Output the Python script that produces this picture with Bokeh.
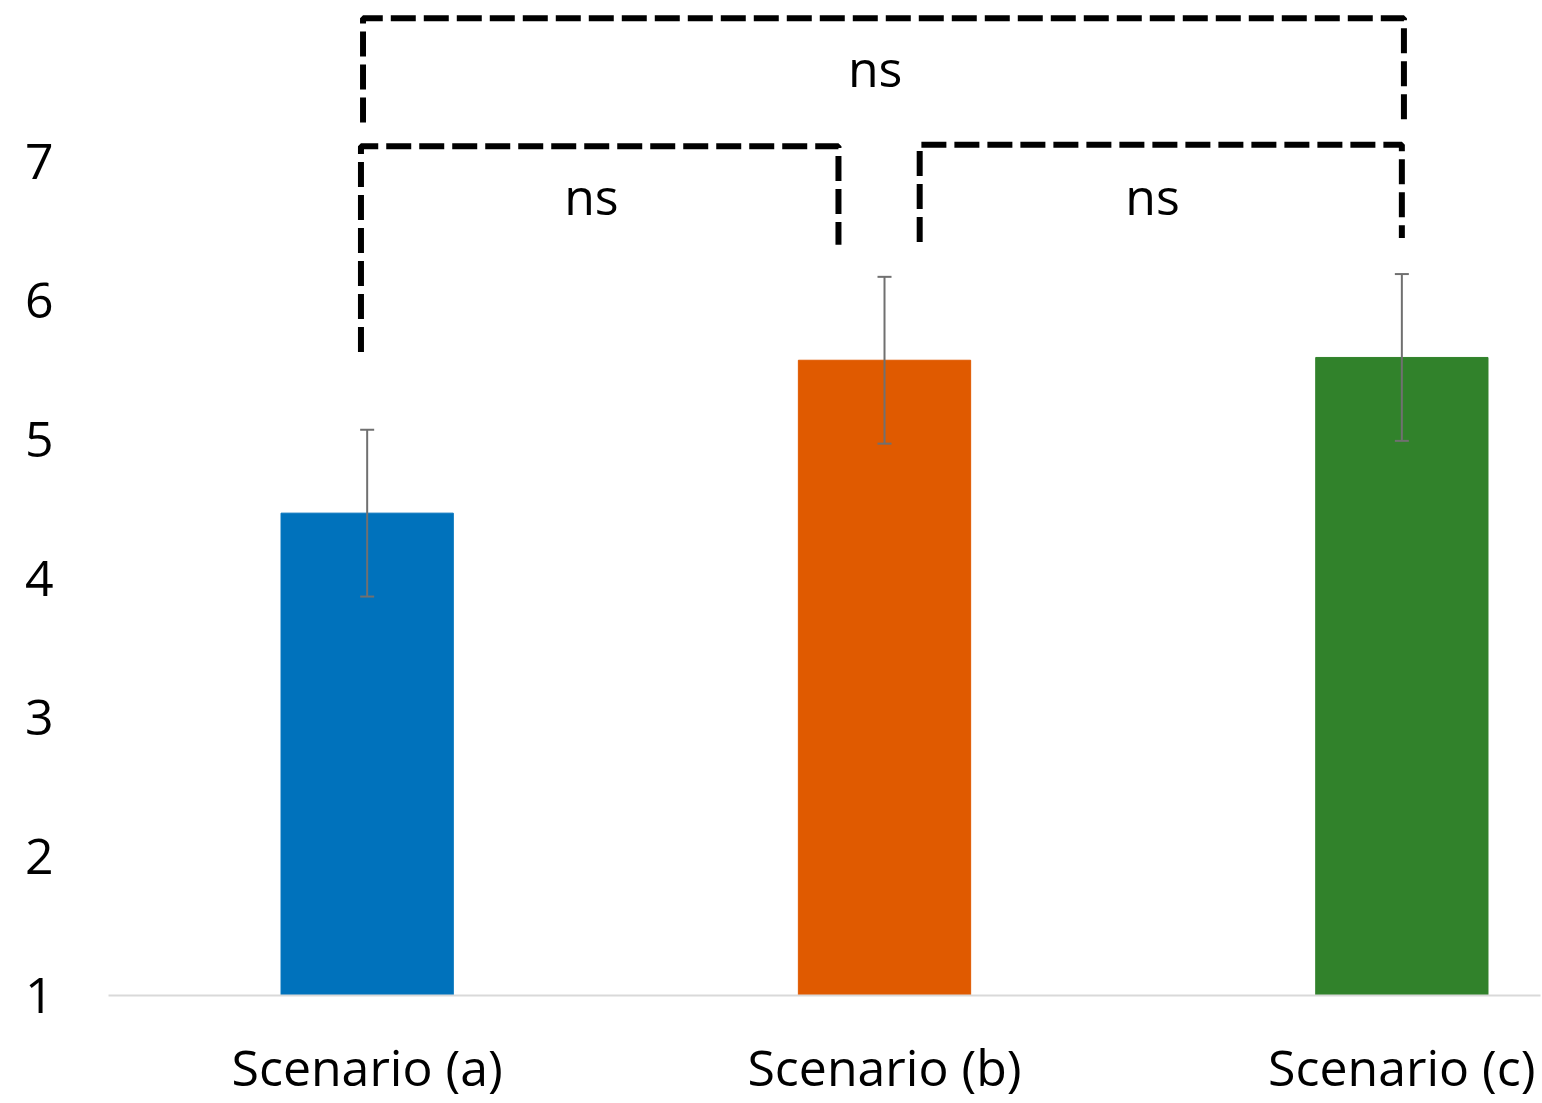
from bokeh.plotting import figure
from bokeh.models import ColumnDataSource, FixedTicker, Whisker, TeeHead, Range1d
from bokeh.core.properties import value
from bokeh.embed import file_html
from bokeh.resources import INLINE

# ---- data ----
categories = ["Scenario (a)", "Scenario (b)", "Scenario (c)"]
means = [4.47, 5.57, 5.59]
errors = [0.60, 0.60, 0.60]
colors = ["#0072BC", "#E05A00", "#31822B"]
y_ticks = [1, 2, 3, 4, 5, 6, 7]

# significance brackets: (left index, right index, bracket level, left leg end, right leg end, label)
brackets = [
    (0, 2, 8.03, 7.28, 7.28, "ns"),
    (0, 1, 7.11, 5.63, 6.40, "ns"),
    (1, 2, 7.12, 6.42, 6.45, "ns"),
]
# horizontal offsets of the bracket ends from the category centres
bracket_offsets = [(-0.008, 0.004), (-0.012, -0.089), (0.068, 0.0)]
label_levels = [7.67, 6.75, 6.75]
label_shift = -0.016

FONT = "Open Sans"
FS = "50px"
xs = list(range(len(categories)))

p = figure(width=1542, height=1103, output_backend="svg", toolbar_location=None,
           x_range=Range1d(-0.5, 2.268), y_range=Range1d(1, 8.158),
           min_border_left=108, min_border_right=2, min_border_top=0, min_border_bottom=100)
p.outline_line_color = None
p.xgrid.visible = False
p.ygrid.visible = False
p.background_fill_color = "white"

src = ColumnDataSource(dict(x=xs, top=means, color=colors,
                            lower=[m - e for m, e in zip(means, errors)],
                            upper=[m + e for m, e in zip(means, errors)]))
p.vbar(x="x", top="top", bottom=1, width=0.333, color="color", source=src)

w = Whisker(base="x", lower="lower", upper="upper", source=src,
            line_color="#707070", line_width=2, level="overlay",
            upper_head=TeeHead(size=14, line_color="#707070", line_width=2),
            lower_head=TeeHead(size=14, line_color="#707070", line_width=2))
p.add_layout(w)

# brackets
for (i, j, lvl, lleg, rleg, lab), (dl, dr), ly in zip(brackets, bracket_offsets, label_levels):
    xl = xs[i] + dl
    xr = xs[j] + dr
    p.line([xl, xl, xr, xr], [lleg, lvl, lvl, rleg], line_color="black",
           line_width=6, line_dash="25 8")
    p.text([(xl + xr) / 2 + label_shift], [ly], text=[lab], text_font=value(FONT),
           text_font_size=FS, text_align="center", text_baseline="middle",
           text_color="black")

# axes
p.yaxis.ticker = FixedTicker(ticks=y_ticks)
p.yaxis.axis_line_color = None
p.yaxis.major_tick_line_color = None
p.yaxis.minor_tick_line_color = None
p.yaxis.major_label_text_font = FONT
p.yaxis.major_label_text_font_size = FS
p.yaxis.major_label_text_color = "black"
p.yaxis.major_label_standoff = 49

p.xaxis.ticker = FixedTicker(ticks=xs)
p.xaxis.major_label_overrides = {i: c for i, c in zip(xs, categories)}
p.xaxis.axis_line_color = "#d9d9d9"
p.xaxis.axis_line_width = 2
p.xaxis.major_tick_line_color = None
p.xaxis.minor_tick_line_color = None
p.xaxis.major_label_text_font = FONT
p.xaxis.major_label_text_font_size = FS
p.xaxis.major_label_text_color = "black"
p.xaxis.major_label_standoff = 31

open("out.html", "w").write(file_html(p, INLINE))
